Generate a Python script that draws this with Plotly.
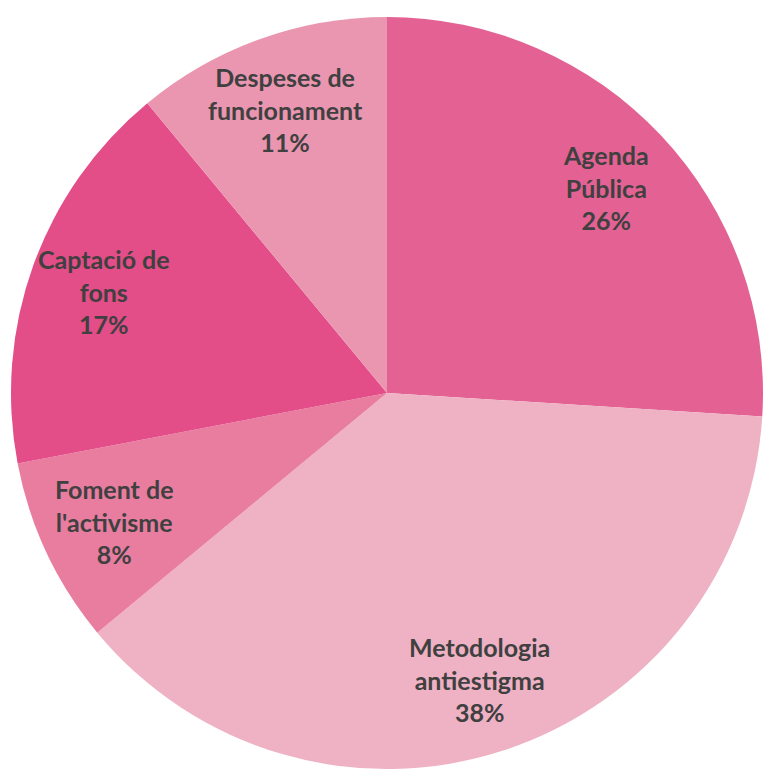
import math
import plotly.graph_objects as go

labels = ["Agenda Pública", "Metodologia antiestigma", "Foment de l'activisme",
          "Captació de fons", "Despeses de funcionament"]
text_labels = ["Agenda<br>Pública", "Metodologia<br>antiestigma", "Foment de<br>l'activisme",
               "Captació de<br>fons", "Despeses de<br>funcionament"]
values = [26, 38, 8, 17, 11]
colors = ["#E36293", "#EFB1C4", "#E87DA0", "#E34D88", "#EA96B1"]

W, H = 763, 771
dom_x = [0.0144, 1.0]
dom_y = [0.0026, 0.978]

fig = go.Figure(go.Pie(
    labels=labels,
    values=values,
    textinfo="none",
    sort=False,
    direction="clockwise",
    rotation=0,
    marker=dict(colors=colors, line=dict(width=0)),
    domain=dict(x=dom_x, y=dom_y),
    hoverinfo="label+percent",
))

# label positions derived from the slice angles
cx = (dom_x[0] + dom_x[1]) / 2 * W
cy = (1 - (dom_y[0] + dom_y[1]) / 2) * H
r = min((dom_x[1] - dom_x[0]) * W, (dom_y[1] - dom_y[0]) * H) / 2
total = sum(values)
cum = 0
for lab, v in zip(text_labels, values):
    mid = (cum + v / 2) / total * 2 * math.pi
    cum += v
    px = cx + 0.80 * r * math.sin(mid)
    py = cy - 0.80 * r * math.cos(mid)
    pct = round(v / total * 100)
    fig.add_annotation(
        x=px / W, y=1 - py / H, xref="paper", yref="paper",
        text=f"{lab}<br>{pct}%", showarrow=False,
        xanchor="center", yanchor="middle", align="center",
        font=dict(family="Lato", size=25, color="#404040", weight="bold"),
    )

fig.update_layout(
    width=W, height=H,
    margin=dict(l=0, r=0, t=0, b=0),
    showlegend=False,
    paper_bgcolor="white",
)
fig.write_html("out.html")
